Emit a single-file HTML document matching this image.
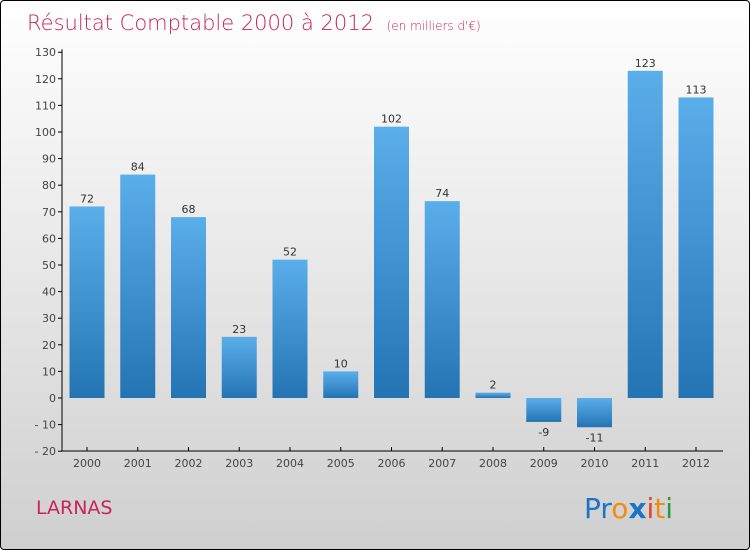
<!DOCTYPE html>
<html><head><meta charset="utf-8"><style>
body{margin:0;}
#c{width:748px;height:548px;border:1px solid #000;border-radius:4px;background:linear-gradient(#ffffff,#cfcfcf);position:relative;overflow:hidden;font-family:"DejaVu Sans","Liberation Sans",sans-serif;}
</style></head><body>
<div id="c">
<svg id="s" width="748" height="548">
<defs><linearGradient id="g" x1="0" y1="0" x2="0" y2="1"><stop offset="0" stop-color="#5aaeea"/><stop offset="1" stop-color="#2474b4"/></linearGradient></defs>
<text x="26" y="29" font-size="21" fill="#c8245c" style="font-weight:200">Résultat Comptable 2000 à 2012 <tspan font-size="12" dx="6">(en milliers d'€)</tspan></text>
<text x="35" y="513" font-size="19" fill="#c8245c">LARNAS</text>
<g font-size="28" font-family="'DejaVu Sans',sans-serif">
<text x="583" y="517"><tspan fill="#1a74c8">Pr</tspan><tspan fill="#f08c10">o</tspan><tspan fill="#1a74c8" font-weight="bold">x</tspan><tspan fill="#e8401c">i</tspan><tspan fill="#f08c10">t</tspan><tspan fill="#2a9a3a">i</tspan></text>
</g>
<g id="plot"></g>
</svg>
</div>
<script>
const categories=["2000","2001","2002","2003","2004","2005","2006","2007","2008","2009","2010","2011","2012"];
const values=[72,84,68,23,52,10,102,74,2,-9,-11,123,113];
const ticks=[130,120,110,100,90,80,70,60,50,40,30,20,10,0,-10,-20];
const ns="http://www.w3.org/2000/svg";
const g=document.getElementById('plot');
const y=v=>397-v*2.66;
const x=i=>86+i*50.75;
function mk(t,a){const e=document.createElementNS(ns,t);for(const k in a)e.setAttribute(k,a[k]);g.appendChild(e);return e;}
ticks.forEach(t=>{
 const l=mk('line',{x1:57,x2:61,y1:y(t),y2:y(t),stroke:'#000'});
 
 
 const tx=mk('text',{x:55,y:y(t)+4,'text-anchor':'end','font-size':11,fill:'#444'});
 tx.textContent=t<0?'- '+(-t):t;
 
 
});
categories.forEach((c,i)=>{
 const v=values[i];
 const r=mk('rect',{x:x(i)-17.5,y:Math.min(y(v),y(0)),width:35,height:Math.abs(y(v)-y(0)),fill:'url(#g)'});
 
 
 const vl=mk('text',{x:x(i),y:v>=0?y(v)-4:y(v)+14,'text-anchor':'middle','font-size':11,fill:'#333'});
 vl.textContent=v;
 
 
 const tk=mk('line',{x1:x(i),x2:x(i),y1:446,y2:450,stroke:'#000'});
 
 
 const cl=mk('text',{x:x(i),y:466,'text-anchor':'middle','font-size':11,fill:'#444'});
 cl.textContent=c;
 
 
});
const ya=mk('line',{x1:61,x2:61,y1:y(130)-3,y2:450,stroke:'#000'});


const xa=mk('line',{x1:61,x2:722,y1:450,y2:450,stroke:'#000'});


</script>
</body></html>
